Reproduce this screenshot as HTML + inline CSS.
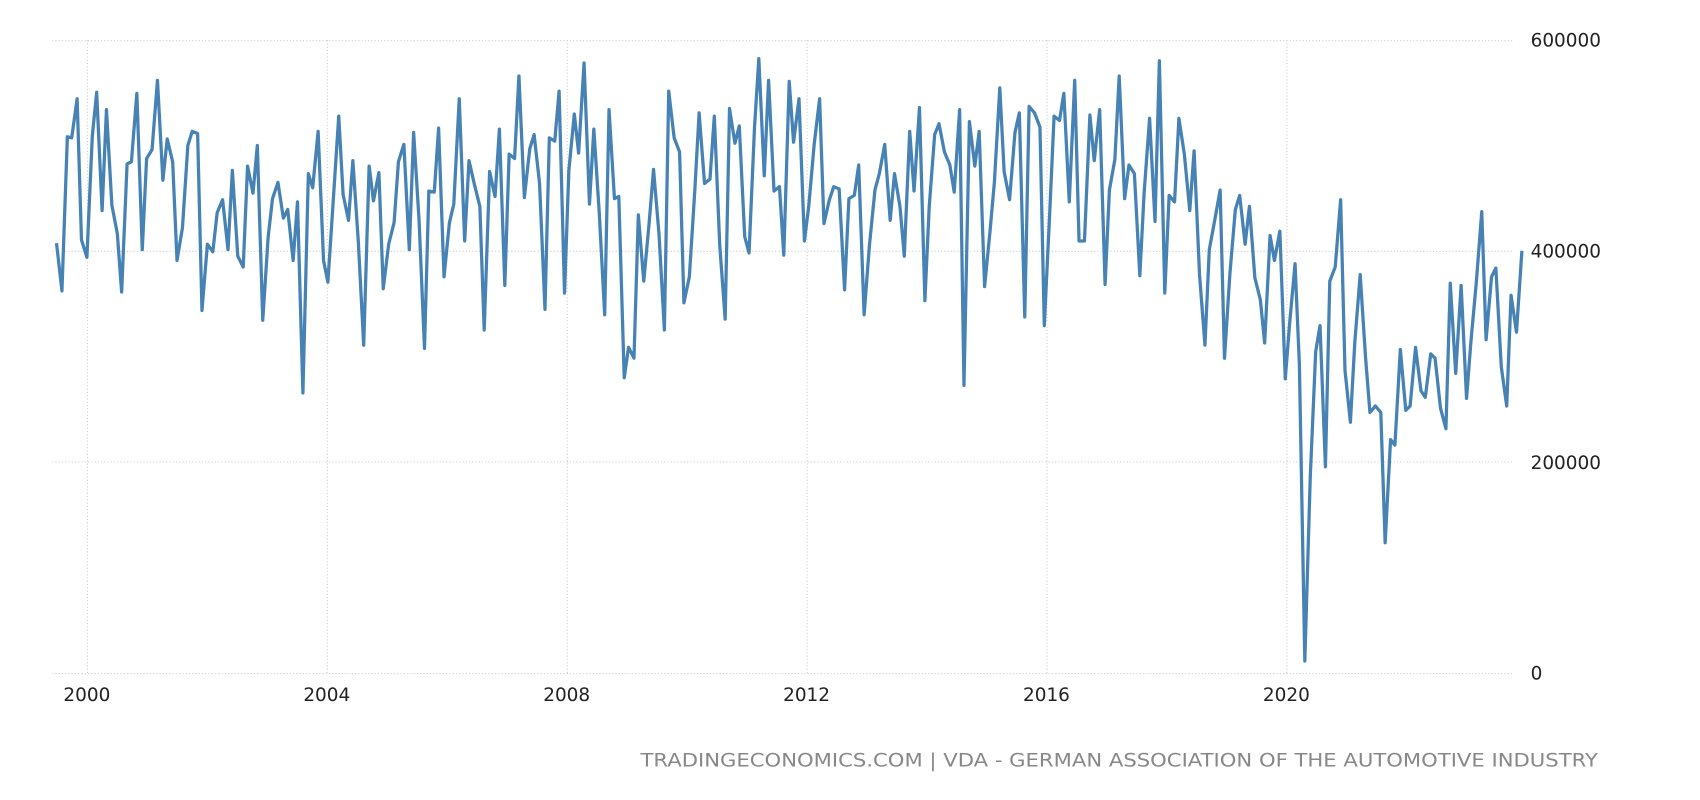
<!DOCTYPE html>
<html><head><meta charset="utf-8"><style>
html,body{margin:0;padding:0;background:#fff;}
svg{display:block;}
text{font-family:"DejaVu Sans","Liberation Sans",sans-serif;}
</style></head><body>
<svg width="1700" height="800" viewBox="0 0 1566 737" xmlns="http://www.w3.org/2000/svg">
<g stroke="#ccc" stroke-width="1" stroke-dasharray="1,2" fill="none">
<line x1="48" y1="37.5" x2="1395" y2="37.5"/>
<line x1="48" y1="231.5" x2="1395" y2="231.5"/>
<line x1="48" y1="425.5" x2="1395" y2="425.5"/>
<line x1="48" y1="620.5" x2="1395" y2="620.5"/>
<line x1="80.5" y1="37" x2="80.5" y2="620"/>
<line x1="301.5" y1="37" x2="301.5" y2="620"/>
<line x1="522.5" y1="37" x2="522.5" y2="620"/>
<line x1="743.5" y1="37" x2="743.5" y2="620"/>
<line x1="964.5" y1="37" x2="964.5" y2="620"/>
<line x1="1185.5" y1="37" x2="1185.5" y2="620"/>
</g>
<g font-size="17" fill="#222">
<text x="1410" y="43">600000</text>
<text x="1410" y="237">400000</text>
<text x="1410" y="432">200000</text>
<text x="1410" y="626">0</text>
<text x="80" y="646" text-anchor="middle">2000</text>
<text x="301" y="646" text-anchor="middle">2004</text>
<text x="522" y="646" text-anchor="middle">2008</text>
<text x="743" y="646" text-anchor="middle">2012</text>
<text x="964" y="646" text-anchor="middle">2016</text>
<text x="1185" y="646" text-anchor="middle">2020</text>
</g>
<text x="1472" y="706" text-anchor="end" font-size="17.5" fill="#888" textLength="882" lengthAdjust="spacingAndGlyphs">TRADINGECONOMICS.COM | VDA - GERMAN ASSOCIATION OF THE AUTOMOTIVE INDUSTRY</text>
<polyline fill="none" stroke="#4682b4" stroke-width="3" stroke-linejoin="round" points="52,224 57,268 62,126 66,127 71,91 75,221 80,237 85,125 89,85 94,194 98,101 103,189 108,215 112,269 117,151 121,149 126,86 131,230 135,146 140,138 145,74 150,166 154,128 159,149 163,240 168,210 173,134 177,121 182,123 186,286 191,225 196,232 200,196 205,184 210,230 214,157 219,236 224,246 228,153 233,178 237,134 242,295 247,218 251,183 256,168 261,201 265,193 270,240 274,186 279,362 284,160 288,173 293,121 298,240 302,260 307,184 312,107 316,179 321,203 325,148 330,222 335,318 340,153 344,185 349,159 353,266 358,225 363,205 367,149 372,133 377,230 381,122 386,203 391,321 395,176 400,177 404,118 409,255 414,205 418,188 423,91 428,222 432,148 437,170 442,190 446,304 451,158 456,181 460,119 465,263 469,142 474,146 478,70 483,182 488,137 492,124 497,169 502,285 506,127 511,130 515,84 520,270 524,157 529,105 533,141 538,58 543,188 547,119 552,196 557,290 561,101 566,183 570,181 575,348 579,320 584,330 588,198 593,259 598,205 602,156 607,215 612,304 616,84 621,127 626,140 630,279 635,255 640,176 644,104 649,169 654,165 658,107 663,226 668,294 672,100 677,132 681,116 686,218 690,233 695,118 699,54 704,162 708,74 713,176 718,172 722,235 727,75 731,131 736,91 741,222 745,190 750,133 755,91 759,206 764,184 768,172 773,174 778,267 782,183 787,180 791,152 796,290 801,225 806,175 810,160 815,133 820,203 824,160 829,190 833,236 838,121 842,176 847,99 852,277 856,190 861,124 865,114 870,140 875,152 879,177 884,101 888,355 893,112 898,153 902,121 907,264 912,213 916,168 921,81 925,158 930,184 935,122 939,104 944,292 948,98 953,104 958,117 962,300 967,196 971,107 976,111 980,86 985,186 990,74 994,222 999,222 1004,106 1008,148 1013,101 1018,262 1022,175 1027,147 1031,70 1036,183 1040,152 1045,160 1050,254 1054,177 1059,109 1064,204 1068,56 1073,270 1077,180 1082,186 1086,109 1091,142 1096,194 1100,139 1105,253 1110,318 1114,230 1119,203 1124,175 1128,330 1133,252 1138,193 1142,180 1147,225 1151,190 1156,256 1161,276 1165,316 1170,217 1174,240 1179,213 1184,349 1188,298 1193,243 1197,336 1202,609 1207,440 1212,324 1216,300 1221,430 1225,259 1230,246 1235,184 1239,341 1244,389 1248,316 1253,253 1258,330 1262,380 1267,374 1272,380 1276,500 1281,405 1285,410 1290,322 1295,378 1299,374 1304,320 1309,360 1313,366 1318,326 1322,330 1327,376 1332,395 1336,261 1341,344 1346,263 1351,367 1355,315 1360,260 1365,195 1369,313 1374,255 1378,247 1383,338 1388,374 1392,272 1397,306 1402,231"/>
</svg>
</body></html>
